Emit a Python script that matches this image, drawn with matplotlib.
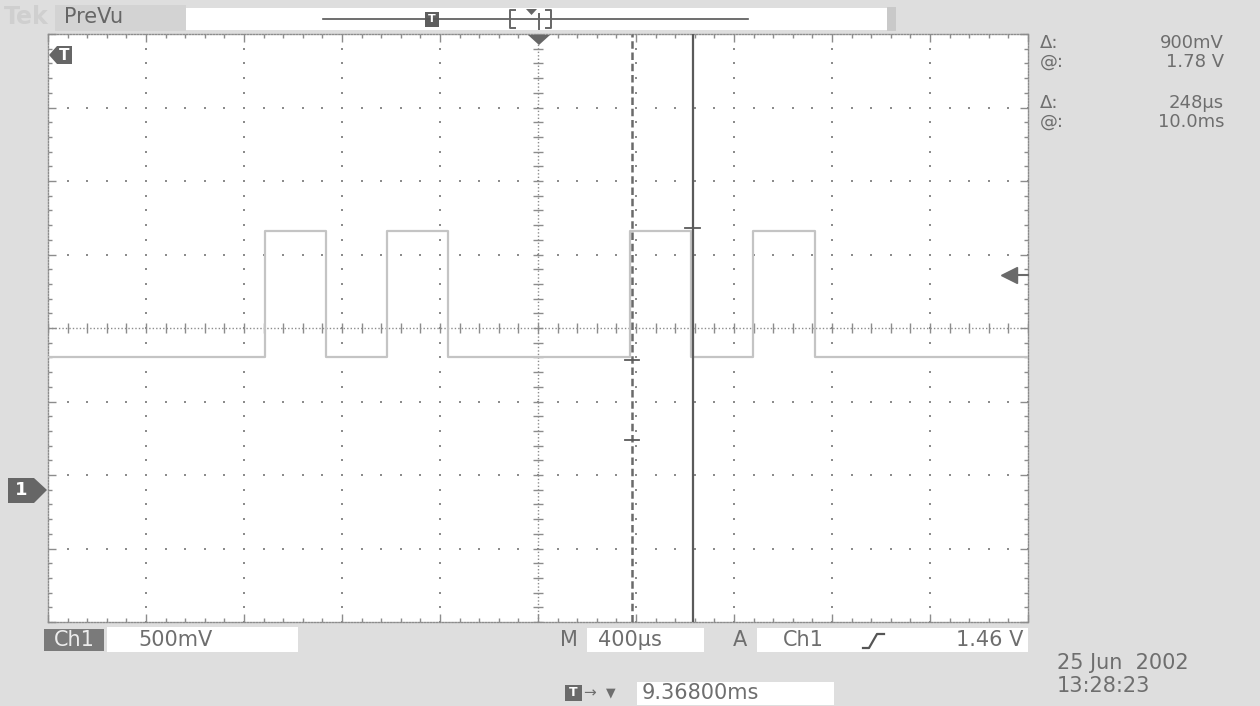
"""
Tek scope screen capture (PreVu) redrawn with matplotlib
"""
import numpy as np
import matplotlib.pyplot as plt
from matplotlib.patches import Rectangle, Polygon
from matplotlib.lines import Line2D
from matplotlib.transforms import blended_transform_factory

W, H = 1260, 706

# ---------- scope settings ----------
center_ms = 9.368      # time at screen centre
ms_per_div = 0.4       # M 400us
v_per_div = 0.5        # Ch1 500mV
ground_div = -2.2      # Ch1 ground marker position (divisions)

# ---------- Ch1 trace: pulse edges (ms) and levels (V) ----------
rise_ms = [8.254, 8.752, 9.744, 10.246]
fall_ms = [8.503, 9.001, 9.992, 10.498]
low_v = 0.90
high_v = 1.76

# ---------- cursors / trigger ----------
cursor_t = [9.752, 10.0]          # dashed, solid
cursor_v = [0.88, 1.78]           # marks on dashed / solid cursor
extra_mark_v = 0.34               # second mark on dashed cursor
trigger_v = 1.46

readout_labels = ["Δ:", "@:", "Δ:", "@:"]
readout_values = ["900mV", "1.78 V", "248µs", "10.0ms"]

TXT = "#6e6e6e"
GRID = "#8c8c8c"


def fx(x):
    return x / W


def fy(y):
    return 1 - y / H


def ftext(x, y, s, **kw):
    kw.setdefault("color", TXT)
    kw.setdefault("fontsize", 15)
    kw.setdefault("va", "center")
    fig.text(fx(x), fy(y), s, **kw)


def frect(x0, y0, x1, y1, color):
    fig.patches.append(Rectangle((fx(x0), fy(y1)), fx(x1 - x0), (y1 - y0) / H,
                                 transform=fig.transFigure, color=color, lw=0))


def fpoly(pts, color):
    fig.patches.append(Polygon([(fx(x), fy(y)) for x, y in pts], closed=True,
                               transform=fig.transFigure, color=color, lw=0))


def fline(xs, ys, color="#555555", lw=1.2):
    fig.lines.append(Line2D([fx(x) for x in xs], [fy(y) for y in ys],
                            transform=fig.transFigure, color=color, lw=lw))


fig = plt.figure(figsize=(W / 100, H / 100), dpi=100, facecolor="#dedede")

# plot area: x 48..1028, y 34..622 px
ax = fig.add_axes([fx(48), fy(622), fx(980), 588 / H])
ax.set_facecolor("white")

xmin, xmax = center_ms - 5 * ms_per_div, center_ms + 5 * ms_per_div
ymin, ymax = (-4 - ground_div) * v_per_div, (4 - ground_div) * v_per_div
ax.set_xlim(xmin, xmax)
ax.set_ylim(ymin, ymax)

# border: dotted with ticks every 1/5 division
for sp in ax.spines.values():
    sp.set_color(GRID)
    sp.set_linestyle((0, (1, 1.2)))
    sp.set_linewidth(1)
ax.set_xticks(np.arange(xmin, xmax + 1e-9, ms_per_div))
ax.set_yticks(np.arange(ymin, ymax + 1e-9, v_per_div))
ax.set_xticks(np.arange(xmin, xmax + 1e-9, ms_per_div / 5), minor=True)
ax.set_yticks(np.arange(ymin, ymax + 1e-9, v_per_div / 5), minor=True)
ax.tick_params(which="both", direction="in", top=True, right=True,
               labelbottom=False, labelleft=False, color=GRID, width=1)
ax.tick_params(which="major", length=6)
ax.tick_params(which="minor", length=3)

# dotted graticule
xmaj = np.arange(1, 10) * ms_per_div + xmin
ymaj = np.arange(1, 8) * v_per_div + ymin
xminor = np.arange(xmin, xmax + 1e-9, ms_per_div / 5)
yminor = np.arange(ymin, ymax + 1e-9, v_per_div / 5)
xc, yc = center_ms, (0 - ground_div) * v_per_div
for x in xmaj:
    if abs(x - xc) > 1e-6:
        ax.plot(np.full_like(yminor, x), yminor, ls="none", marker="s",
                ms=1.6, color=GRID, mew=0)
for y in ymaj:
    if abs(y - yc) > 1e-6:
        ax.plot(xminor, np.full_like(xminor, y), ls="none", marker="s",
                ms=1.6, color=GRID, mew=0)
# centre cross with ticks
ax.axhline(yc, color=GRID, lw=1, ls=(0, (1, 1.5)))
ax.axvline(xc, color=GRID, lw=1, ls=(0, (1, 1.5)))
ax.plot(xminor, np.full_like(xminor, yc), ls="none", marker="|", ms=7,
        color=GRID, mew=1)
ax.plot(np.full_like(yminor, xc), yminor, ls="none", marker="_", ms=7,
        color=GRID, mew=1)

# Ch1 trace
t, v = [xmin], [low_v]
for r, f in zip(rise_ms, fall_ms):
    t += [r, r, f, f]
    v += [low_v, high_v, high_v, low_v]
t.append(xmax)
v.append(low_v)
ax.plot(t, v, color="#c4c4c4", lw=1.6, zorder=3)

# time cursors
ax.axvline(cursor_t[0], color="#6a6a6a", lw=1.8, ls=(0, (3, 1.5)), zorder=4)
ax.axvline(cursor_t[1], color="#5a5a5a", lw=1.6, zorder=4)
half = 0.15 * ms_per_div / 2
ax.plot([cursor_t[1] - half, cursor_t[1] + half], [cursor_v[1]] * 2,
        color="#5a5a5a", lw=1.3, zorder=5)
for mv in (cursor_v[0], extra_mark_v):
    ax.plot([cursor_t[0] - half, cursor_t[0] + half], [mv] * 2,
            color="#5a5a5a", lw=1.3, zorder=5)

# trigger level arrow on right edge
blend = blended_transform_factory(ax.transAxes, ax.transData)
ax.plot([0.985, 1.0], [trigger_v] * 2, color="#6a6a6a", lw=1.5,
        transform=blend, clip_on=False, zorder=5)
ax.plot([0.981], [trigger_v], marker="<", ms=11, color="#6a6a6a",
        transform=blend, clip_on=False, zorder=5)

# trigger position marker on top edge
fpoly([(528, 35), (550, 35), (539, 45)], "#666666")

# T marker top left
fpoly([(49, 55), (57, 46), (72, 46), (72, 64), (57, 64)], "#666666")
ftext(64, 55, "T", color="white", fontsize=11, weight="bold", ha="center")

# Ch1 ground marker
fpoly([(47, 490), (34, 478), (8, 478), (8, 503), (34, 503)], "#666666")
ftext(21, 490, "1", color="white", fontsize=13, weight="bold", ha="center")

# ---------- top bar ----------
ftext(4, 17, "Tek", color="#cfcfcf", fontsize=17, weight="bold")
frect(55, 5, 186, 31, "#d3d3d3")
ftext(64, 17, "PreVu", fontsize=15, color="#666666")
frect(186, 8, 887, 30, "white")
frect(887, 7, 896, 31, "#c9c9c9")
fline([323, 748], [19, 19], "#555555", 1.2)
frect(425, 12, 439, 27, "#5e5e5e")
ftext(432, 19.5, "T", color="white", fontsize=8, weight="bold", ha="center")
fline([515, 510, 510, 515], [10, 10, 28, 28], "#666666", 1.4)
fline([546, 551, 551, 546], [10, 10, 28, 28], "#666666", 1.4)
fline([539, 539], [14, 29], "#666666", 1.4)
fpoly([(526, 9), (537, 9), (531.5, 15)], "#666666")

# ---------- cursor readouts ----------
for i, (lab, val) in enumerate(zip(readout_labels, readout_values)):
    yy = [43, 62, 103, 122][i]
    ftext(1040, yy, lab, fontsize=13)
    ftext(1224, yy, val, fontsize=13, ha="right")

# ---------- bottom status ----------
frect(44, 629, 104, 651, "#7a7a7a")
ftext(74, 640, "Ch1", color="#ececec", fontsize=15, ha="center")
frect(107, 627, 298, 652, "white")
ftext(138, 640, "500mV", fontsize=15)

ftext(560, 640, "M", fontsize=15)
frect(587, 628, 704, 652, "white")
ftext(598, 640, "400µs", fontsize=15)
ftext(733, 640, "A", fontsize=15)
frect(757, 628, 1028, 652, "white")
ftext(783, 640, "Ch1", fontsize=15)
fline([863, 869, 877, 884], [648, 648, 634, 634], "#555555", 1.6)
ftext(1023, 640, "1.46 V", fontsize=15, ha="right")

frect(565, 685, 582, 701, "#6a6a6a")
ftext(573.5, 693, "T", color="white", fontsize=9, weight="bold", ha="center")
ftext(583, 693, "→", fontsize=11)
ftext(606, 693, "▼", fontsize=9)
frect(637, 682, 834, 705, "white")
ftext(642, 693, "9.36800ms", fontsize=15)

ftext(1057, 663, "25 Jun  2002", fontsize=15)
ftext(1057, 686, "13:28:23", fontsize=15)

fig.savefig("out.png", dpi=100, facecolor=fig.get_facecolor())
